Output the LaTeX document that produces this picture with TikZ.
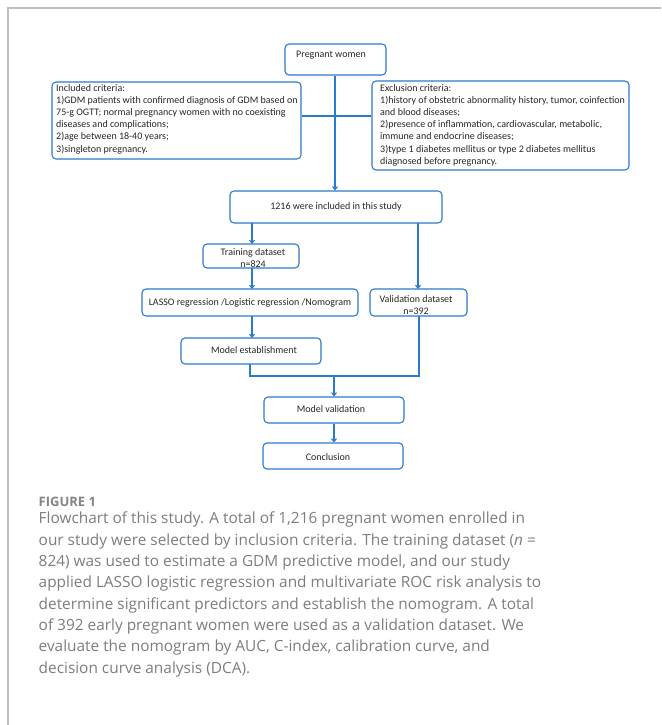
\documentclass[tikz,border=0pt]{standalone}
\usepackage{fontspec}
\setmainfont{Carlito}
\newfontfamily\capfont{Open Sans}
\usetikzlibrary{arrows.meta}
\definecolor{bblue}{RGB}{44,122,205}
\definecolor{capgray}{RGB}{125,125,125}
\definecolor{framegray}{RGB}{190,190,190}
\tikzset{
  box/.style={draw=bblue, line width=1.1pt, rounded corners=4pt, inner sep=0pt},
  txt/.style={inner sep=0pt, font=\fontsize{10}{12.2}\selectfont, text=black!85},
  conn/.style={draw=bblue, line width=1.1pt},
  arr/.style={conn, -{Straight Barb[length=3pt,width=5pt]}},
}
\begin{document}
\begin{tikzpicture}[x=1pt,y=-1pt]
\useasboundingbox (0,0) rectangle (661,725);
\draw[framegray, line width=1.4pt] (8,725) -- (8,8) -- (661,8);

% boxes
\node[box, minimum width=101pt, minimum height=31pt] (pw) at (335.5,59.5) {};
\node[txt] (pwt) at (331,55) {Pregnant women};

\node[box, minimum width=249pt, minimum height=77pt] (inc) at (176.5,120.5) {};
\node[txt, anchor=north west, align=left] (inct) at (56,84) {Included criteria:\\
1)GDM patients with confirmed diagnosis of GDM based on\\
75-g OGTT; normal pregnancy women with no coexisting\\
diseases and complications;\\
2)age between 18-40 years;\\
3)singleton pregnancy.};

\node[box, minimum width=257pt, minimum height=89pt] (exc) at (500.5,125.5) {};
\node[txt, anchor=north west, align=left] (exct) at (380,84) {Exclusion criteria:\\
1)history of obstetric abnormality history, tumor, coinfection\\
and blood diseases;\\
2)presence of inflammation, cardiovascular, metabolic,\\
immune and endocrine diseases;\\
3)type 1 diabetes mellitus or type 2 diabetes mellitus\\
diagnosed before pregnancy.};

\node[box, minimum width=212pt, minimum height=32pt] (inc1216) at (336,207) {};
\node[txt] (inc1216t) at (336,207) {1216 were included in this study};

\node[box, minimum width=96pt, minimum height=24pt] (tr) at (251,256) {};
\node[txt, align=center] (trt) at (253,258) {Training dataset\\n=824};

\node[box, minimum width=216pt, minimum height=27pt] (lasso) at (250,302.5) {};
\node[txt] (lassot) at (250,303) {LASSO regression /Logistic regression /Nomogram};

\node[box, minimum width=97pt, minimum height=27pt] (val) at (418.5,302.5) {};
\node[txt, align=center] (valt) at (416,305) {Validation dataset\\n=392};

\node[box, minimum width=140pt, minimum height=26pt] (me) at (251,351) {};
\node[txt] (met) at (254,350) {Model establishment};

\node[box, minimum width=140pt, minimum height=26pt] (mv) at (334,410) {};
\node[txt] (mvt) at (331,409) {Model validation};

\node[box, minimum width=140pt, minimum height=26pt] (cc) at (333,456) {};
\node[txt] (cct) at (328,457) {Conclusion};

% connectors
\coordinate (hl) at (335,116);
\coordinate (mj) at (334,376);
\draw[arr] (pw.south -| hl) -- (inc1216.north -| hl);
\draw[conn] (inc.east |- hl) -- (exc.west |- hl);
\draw[arr] (252,223) -- (252,244);
\draw[arr] (418,223) -- (418,289);
\draw[arr] (252,268) -- (252,289);
\draw[arr] (252,316) -- (252,338);
\draw[conn] (250,364) -- (250,376) -- (419,376) -- (419,316);
\draw[arr] (mj) -- (mv.north -| mj);
\draw[arr] (mv.south -| mj) -- (cc.north -| mj);

% caption
\node[inner sep=0pt, anchor=west, text=capgray!95, font=\capfont\bfseries\fontsize{13}{15}\selectfont] (fig) at (38.5,502) {FIGURE 1};
\node[inner sep=0pt, anchor=north west, align=left, text=capgray, font=\capfont\fontsize{15.4}{21.3}\selectfont] (cap) at (38.5,512) {Flowchart of this study. A total of 1,216 pregnant women enrolled in\\
our study were selected by inclusion criteria. The training dataset (\textit{n} =\\
824) was used to estimate a GDM predictive model, and our study\\
applied LASSO logistic regression and multivariate ROC risk analysis to\\
determine significant predictors and establish the nomogram. A total\\
of 392 early pregnant women were used as a validation dataset. We\\
evaluate the nomogram by AUC, C-index, calibration curve, and\\
decision curve analysis (DCA).};
\end{tikzpicture}
\end{document}
